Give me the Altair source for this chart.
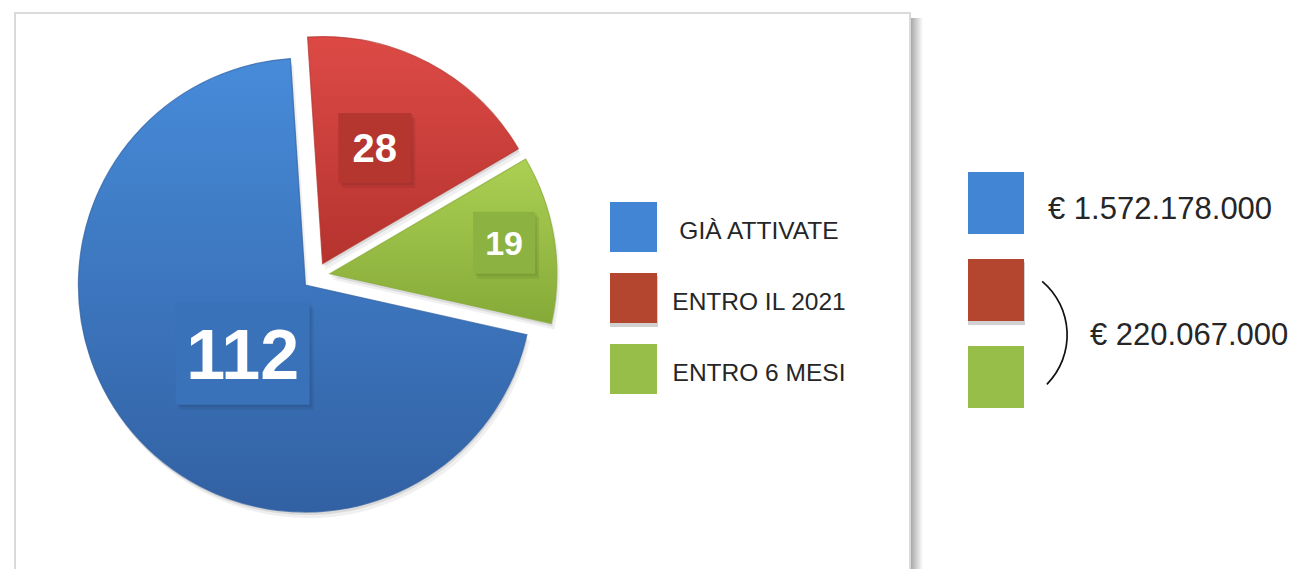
import altair as alt
import pandas as pd

# ---------------- data ----------------
categories = ["GIÀ ATTIVATE", "ENTRO IL 2021", "ENTRO 6 MESI"]
counts = [112, 28, 19]
pie_sequence = [2, 0, 1]  # clockwise order from 12 o'clock
amount_labels = ["€ 1.572.178.000", "€ 220.067.000"]

# ---------------- styles ----------------
swatch_colors = ["#4285d5", "#b4452f", "#98be4a"]
slice_top = ["#478bd9", "#dd4a46", "#abd053"]
slice_bottom = ["#3261a3", "#b5332e", "#86aa38"]
box_colors = ["#3a72b9", "#b5352f", "#8cb242"]
label_font = [70, 40, 34]
label_box = [(134, 102), (73, 70), (62, 62)]
label_dist = [93, 127, 177]
label_turn = [-0.122, -0.063, -0.021]

CX, CY, R, EXPLODE, ROT = 316, 276, 227, 14, -0.066
FONT = "Liberation Sans"

one = pd.DataFrame({"k": [0]})
pie_df = pd.DataFrame({"cat": categories, "n": counts, "seq": pie_sequence})

base = (
    alt.Chart(pie_df)
    .transform_joinaggregate(total="sum(n)")
    .transform_window(cum="sum(n)", sort=[alt.SortField("seq")])
    .transform_calculate(t0=f"(datum.cum - datum.n) / datum.total * 2 * PI + ({ROT})")
    .transform_calculate(t1=f"datum.cum / datum.total * 2 * PI + ({ROT})")
    .transform_calculate(mid="(datum.t0 + datum.t1) / 2")
    .transform_calculate(px=f"{CX} + {EXPLODE} * sin(datum.mid)")
    .transform_calculate(py=f"{CY} - {EXPLODE} * cos(datum.mid)")
)

enc = dict(
    x=alt.X("px:Q", scale=None, axis=None),
    y=alt.Y("py:Q", scale=None, axis=None),
    theta=alt.Theta("t0:Q", scale=None),
    theta2=alt.Theta2("t1:Q"),
)

layers = []

# frame with shadow
layers.append(
    alt.Chart(one).mark_rect(
        fill=alt.LinearGradient(
            gradient="linear",
            stops=[alt.GradientStop(color="#a8a8a8", offset=0),
                   alt.GradientStop(color="#ffffff", offset=1)],
            x1=0, x2=1, y1=0, y2=0,
        )
    ).encode(x=alt.value(911), x2=alt.value(923), y=alt.value(18), y2=alt.value(640))
)
layers.append(
    alt.Chart(one).mark_rect(fill="white", stroke="#dadada", strokeWidth=2).encode(
        x=alt.value(15), x2=alt.value(910), y=alt.value(13), y2=alt.value(640)
    )
)

# pie shadows
for i, cat in enumerate(categories):
    f = base.transform_filter(alt.datum.cat == cat)
    layers.append(f.mark_arc(radius=R, fill="#000000", opacity=0.06, xOffset=3, yOffset=6).encode(**enc))
    layers.append(f.mark_arc(radius=R, fill="#000000", opacity=0.09, xOffset=1, yOffset=3).encode(**enc))

# pie slices
for i, cat in enumerate(categories):
    f = base.transform_filter(alt.datum.cat == cat)
    grad = alt.LinearGradient(
        gradient="linear",
        stops=[alt.GradientStop(color=slice_top[i], offset=0),
               alt.GradientStop(color=slice_bottom[i], offset=1)],
        x1=0, x2=0, y1=0, y2=1,
    )
    layers.append(
        f.mark_arc(radius=R, fill=grad, stroke=slice_bottom[i], strokeWidth=1.2, strokeOpacity=0.7).encode(**enc)
    )

# value boxes and labels
for i, cat in enumerate(categories):
    bw, bh = label_box[i]
    fs = label_font[i]
    lab = (
        base.transform_filter(alt.datum.cat == cat)
        .transform_calculate(lx=f"datum.px + {label_dist[i]} * sin(datum.mid + ({label_turn[i]}))")
        .transform_calculate(ly=f"datum.py - {label_dist[i]} * cos(datum.mid + ({label_turn[i]}))")
        .transform_calculate(bx1=f"datum.lx - {bw / 2}", bx2=f"datum.lx + {bw / 2}")
        .transform_calculate(by1=f"datum.ly - {bh / 2}", by2=f"datum.ly + {bh / 2}")
    )
    benc = dict(
        x=alt.X("bx1:Q", scale=None, axis=None), x2="bx2:Q",
        y=alt.Y("by1:Q", scale=None, axis=None), y2="by2:Q",
    )
    layers.append(lab.mark_rect(fill="#000000", opacity=0.07, xOffset=4, x2Offset=4, yOffset=5, y2Offset=5).encode(**benc))
    layers.append(lab.mark_rect(fill="#000000", opacity=0.07, xOffset=2, x2Offset=2, yOffset=2, y2Offset=2).encode(**benc))
    layers.append(lab.mark_rect(fill=box_colors[i]).encode(**benc))
    layers.append(
        lab.mark_text(
            font=FONT, fontSize=fs, fontWeight="bold", color="white",
            align="center", baseline="alphabetic", dy=round(0.358 * fs, 1),
        ).encode(
            x=alt.X("lx:Q", scale=None, axis=None),
            y=alt.Y("ly:Q", scale=None, axis=None),
            text=alt.Text("n:Q"),
        )
    )

# legend (middle)
leg_df = pd.DataFrame({"cat": categories})
color_scale = alt.Scale(domain=categories, range=swatch_colors)
leg = (
    alt.Chart(leg_df)
    .transform_window(idx="row_number()")
    .transform_calculate(y0="202 + 71 * (datum.idx - 1)")
    .transform_calculate(y1="datum.y0 + 50", ty="datum.y0 + 37")
)
layers.append(
    leg.transform_filter(alt.datum.cat == categories[1]).mark_rect(fill="#000000", opacity=0.18, yOffset=3, y2Offset=4, xOffset=-1).encode(
        x=alt.value(611), x2=alt.value(658),
        y=alt.Y("y0:Q", scale=None, axis=None), y2="y1:Q",
    )
)
layers.append(
    leg.mark_rect().encode(
        x=alt.value(610), x2=alt.value(657),
        y=alt.Y("y0:Q", scale=None, axis=None), y2="y1:Q",
        color=alt.Color("cat:N", scale=color_scale, legend=None),
    )
)
layers.append(
    leg.mark_text(font=FONT, fontSize=24.5, color="#262626", align="center", baseline="alphabetic").encode(
        x=alt.value(759), y=alt.Y("ty:Q", scale=None, axis=None), text="cat:N"
    )
)

# right-hand swatches
sw = (
    alt.Chart(leg_df)
    .transform_window(idx="row_number()")
    .transform_calculate(y0="172 + 87 * (datum.idx - 1)")
    .transform_calculate(y1="datum.y0 + 62")
)
layers.append(
    sw.transform_filter(alt.datum.cat == categories[1]).mark_rect(fill="#000000", opacity=0.18, yOffset=3, y2Offset=4, xOffset=-1).encode(
        x=alt.value(969), x2=alt.value(1025),
        y=alt.Y("y0:Q", scale=None, axis=None), y2="y1:Q",
    )
)
layers.append(
    sw.mark_rect().encode(
        x=alt.value(968), x2=alt.value(1024),
        y=alt.Y("y0:Q", scale=None, axis=None), y2="y1:Q",
        color=alt.Color("cat:N", scale=color_scale, legend=None),
    )
)

# amounts
amt_df = pd.DataFrame({"label": amount_labels})
amt = (
    alt.Chart(amt_df)
    .transform_window(idx="row_number()")
    .transform_calculate(ax="1048 + 42 * (datum.idx - 1)", ay="219 + 126 * (datum.idx - 1)")
)
layers.append(
    amt.mark_text(font=FONT, fontSize=31, color="#262626", align="left", baseline="alphabetic").encode(
        x=alt.X("ax:Q", scale=None, axis=None), y=alt.Y("ay:Q", scale=None, axis=None), text="label:N"
    )
)

# bracket
layers.append(
    alt.Chart(one).mark_arc(theta=0.70, theta2=2.35, radius=71, radius2=69.3, fill="#111111").encode(
        x=alt.value(997), y=alt.value(335)
    )
)

chart = (
    alt.layer(*layers)
    .properties(width=1297, height=569, autosize="none", padding=0, background="white")
    .configure_view(strokeWidth=0)
)

chart.save("out.html", embed_options={"renderer": "svg", "actions": False})
